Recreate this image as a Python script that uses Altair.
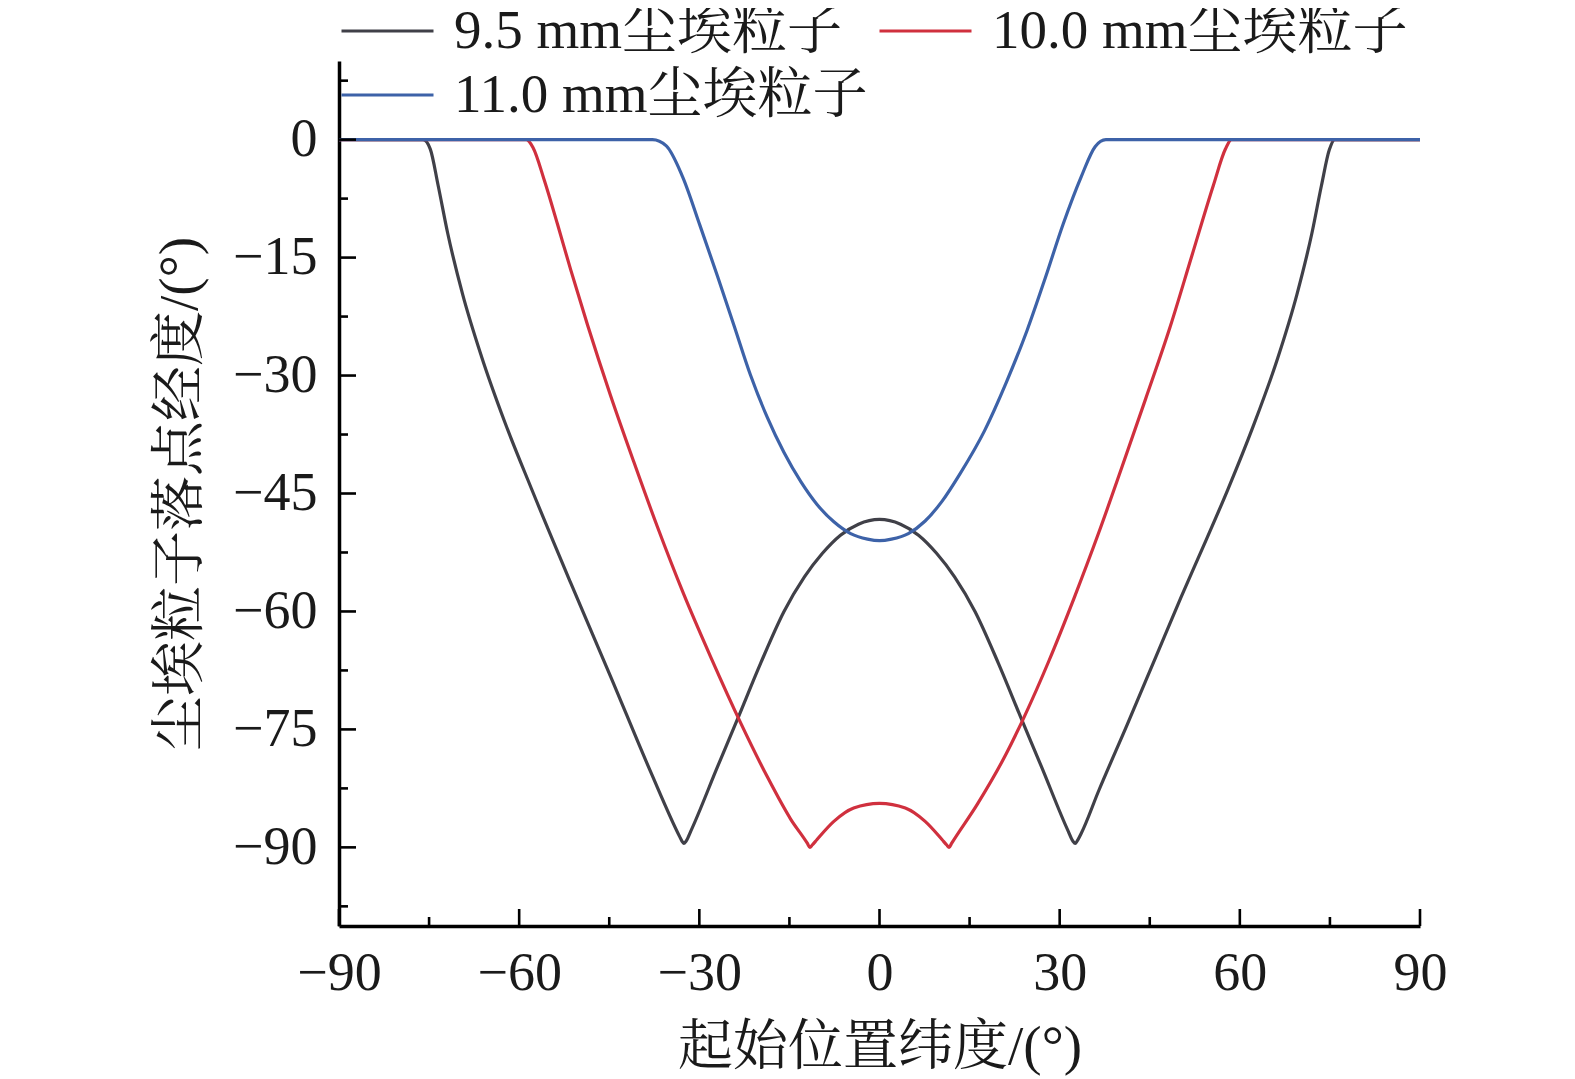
import altair as alt
import pandas as pd

# ---- data ----
series_names = ["9.5 mm尘埃粒子", "10.0 mm尘埃粒子", "11.0 mm尘埃粒子"]
series_colors = ["#404048", "#d0303e", "#3d62a8"]

x95 = [-90, -76.0, -74.8, -73.5, -71.9, -69.4, -66.3, -62.4, -58.0, -51.4, -44.7, -38.1,
       -33.3, -32.9, -32.6, -32.2, -31.4, -27.0, -23.7, -19.8, -15.9, -12.5, -9.5, -6.5, -3.5, 0,
       3.5, 6.5, 9.5, 12.5, 15.9, 19.8, 23.7, 27.0, 31.4, 32.2, 32.6, 32.9, 33.6, 36.5, 41.3, 46.0,
       50.2, 54.4, 58.0, 62.2, 66.3, 69.5, 72.0, 73.6, 74.9, 75.8, 90]
y95 = [0, 0, -1.2, -5.8, -11.9, -19.7, -27.5, -35.9, -44.3, -56.4, -68.4, -80.4,
       -88.6, -89.2, -89.5, -89.2, -87.9, -79.8, -73.8, -66.6, -60.0, -55.6, -52.6, -50.3, -48.9, -48.3,
       -48.9, -50.3, -52.6, -55.6, -60.0, -66.6, -73.8, -79.8, -87.9, -89.2, -89.5, -89.2, -88.2, -82.8, -74.3, -65.8,
       -58.2, -50.9, -44.5, -36.5, -27.8, -19.7, -11.9, -5.8, -1.3, 0, 0]

x100 = [-90, -58.8, -57.7, -55.8, -53.6, -51.4, -48.6, -44.8, -40.9, -37.0, -32.6, -28.1,
        -23.1, -18.7, -14.8, -12.0, -11.6, -11.2, -10.4, -7.6, -4.3, 0, 4.3, 7.6, 10.4,
        11.2, 11.6, 12.0, 16.3, 21.1, 24.1, 28.2, 32.4, 36.5, 40.3, 44.3, 48.4, 52.0,
        55.6, 57.6, 58.6, 90]
y100 = [0, 0, -1.0, -5.2, -10.8, -16.6, -23.6, -32.5, -41.0, -49.2, -57.8, -65.8,
        -74.2, -81.0, -86.4, -89.5, -90.0, -89.7, -89.0, -86.7, -85.0, -84.4, -85.0, -86.7, -89.0,
        -89.7, -90.0, -89.5, -84.5, -78.1, -73.4, -66.3, -58.3, -50.0, -41.8, -33.0, -23.8, -14.8,
        -5.8, -1.2, 0, 0]

x110 = [-90, -37.8, -35.5, -32.8, -29.9, -27.0, -24.2, -21.5, -18.7, -15.9, -13.1, -10.4,
        -7.6, -4.8, -2.0, 0, 2.0, 4.8, 7.6, 10.4, 13.4, 17.5, 21.1, 24.6, 27.6, 30.6,
        33.6, 35.9, 37.7, 90]
y110 = [0, 0, -0.8, -4.7, -10.9, -17.3, -23.7, -29.9, -35.3, -39.8, -43.5, -46.4,
        -48.6, -50.1, -50.8, -51.0, -50.8, -50.1, -48.5, -46.0, -42.5, -37.0, -30.9, -24.2, -17.6, -10.7,
        -4.7, -0.9, 0, 0]

x_major = [-90, -60, -30, 0, 30, 60, 90]
x_minor = [-75, -45, -15, 15, 45, 75]
y_major = [-90, -75, -60, -45, -30, -15, 0]
y_minor = [-97.5, -82.5, -67.5, -52.5, -37.5, -22.5, -7.5, 7.5]

# ---- tables ----
frames = []
for name, xs, ys in zip(series_names, [x95, x100, x110], [y95, y100, y110]):
    frames.append(pd.DataFrame({"lat": xs, "lon": ys, "series": name, "idx": range(len(xs))}))

W, H = 1081, 865
SERIF = "'Liberation Serif', 'Noto Serif CJK SC', 'Noto Sans CJK SC'"
FS = 54
TXT = "#1a1a1a"

xscale = alt.Scale(domain=[-90, 90], nice=False, zero=False)
yscale = alt.Scale(domain=[-100, 10], nice=False, zero=False)
cscale = alt.Scale(domain=series_names, range=series_colors)

xaxis = alt.Axis(title="起始位置纬度/(°)", values=x_major, ticks=False, grid=False,
                 domainColor="black", domainWidth=3.5, labelFont=SERIF,
                 labelFontSize=FS, labelColor=TXT, labelPadding=20,
                 labelFlush=False, titleFont=SERIF, titleFontSize=55,
                 titleFontWeight="normal", titleColor=TXT,
                 titleBaseline="alphabetic", titleY=137)
yaxis = alt.Axis(title="尘埃粒子落点经度/(°)", values=y_major, ticks=False, grid=False,
                 domainColor="black", domainWidth=3.5, labelFont=SERIF,
                 labelFontSize=FS, labelColor=TXT, labelPadding=22,
                 labelFlush=False, titleFont=SERIF, titleFontSize=55,
                 titleFontWeight="normal", titleColor=TXT,
                 titleAngle=270, titleBaseline="alphabetic", titleAlign="center",
                 titleX=-143, titleY=H / 2)

legend = alt.Legend(
    title=None, orient="none", legendX=1, legendY=-62, columns=2, direction="horizontal",
    symbolType="stroke", symbolSize=8464, symbolStrokeWidth=3,
    labelFont=SERIF, labelFontSize=55, labelColor=TXT, labelOffset=19,
    columnPadding=10, rowPadding=0, clipHeight=64, labelLimit=800, padding=0,
)

layers = []
for i, df in enumerate(frames):
    layers.append(
        alt.Chart(df).mark_line(strokeWidth=3.2, interpolate="monotone").encode(
            x=alt.X("lat:Q", scale=xscale, axis=xaxis),
            y=alt.Y("lon:Q", scale=yscale, axis=yaxis),
            color=alt.Color("series:N", scale=cscale, legend=legend),
            order=alt.Order("idx:Q"),
        )
    )

def tick_layer(vals, axis, length):
    d = pd.DataFrame({"lat": vals, "lon": vals})
    base = alt.Chart(d).mark_rule(color="black", strokeWidth=2.6)
    if axis == "x":
        return base.encode(x=alt.X("lat:Q", scale=xscale, axis=xaxis),
                           y=alt.value(H), y2=alt.value(H - length))
    return base.encode(y=alt.Y("lon:Q", scale=yscale, axis=yaxis),
                       x=alt.value(0), x2=alt.value(length))

ticks = [tick_layer(x_major, "x", 17), tick_layer(x_minor, "x", 9),
         tick_layer(y_major, "y", 17), tick_layer(y_minor, "y", 9)]

chart = alt.layer(*layers, *ticks).properties(
    width=W, height=H,
    background="white",
    autosize=alt.AutoSizeParams(type="none"),
    padding={"left": 331, "top": 53, "right": 120, "bottom": 150},
).configure_view(strokeWidth=0)

chart.save("out.html", embed_options={"renderer": "svg", "actions": False})
